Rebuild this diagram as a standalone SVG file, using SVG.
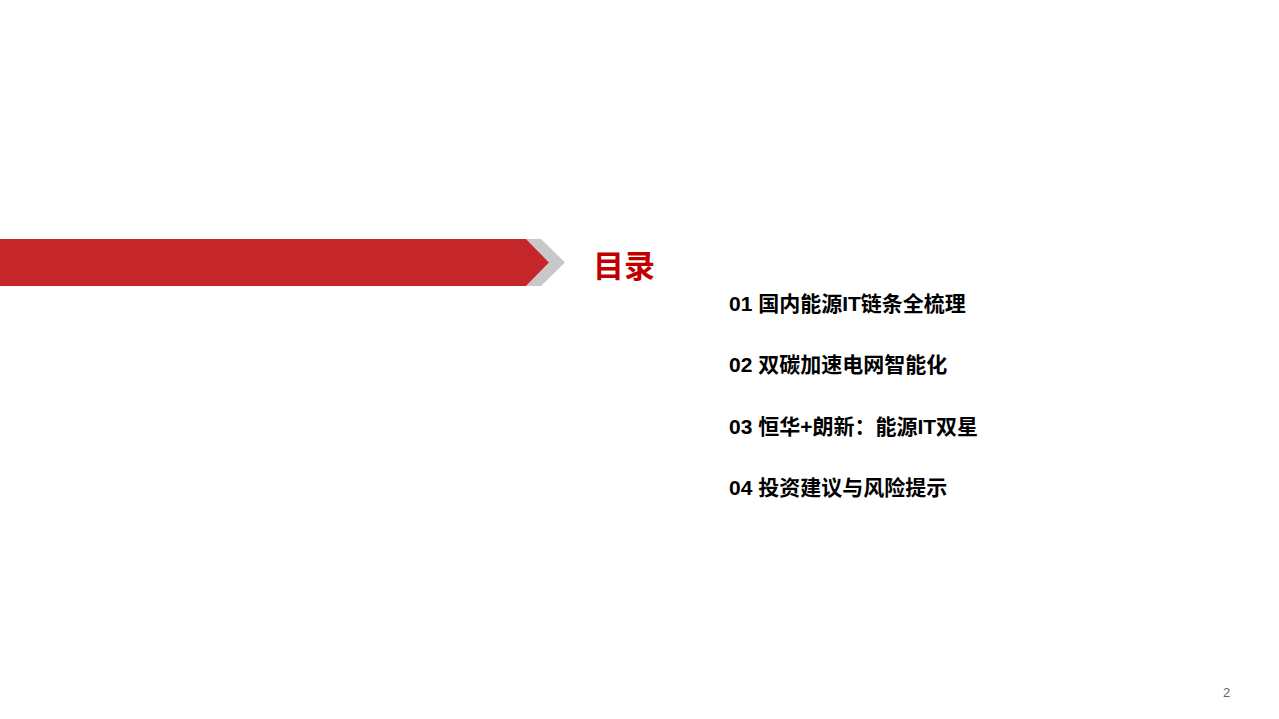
<svg xmlns="http://www.w3.org/2000/svg" width="1279" height="719" viewBox="0 0 1279 719">
<style>
.t{font-family:"Liberation Sans","Noto Sans CJK SC",sans-serif;font-weight:bold;font-size:21px;fill:#000}
</style>
<rect width="1279" height="719" fill="#fff"/>
<g id="banner">
<polygon points="526,239 541,239 565,262.5 541,286 526,286 549,262.5" fill="#c8c8c8"/>
<polygon points="0,239 526,239 549,262.5 526,286 0,286" fill="#c4262a"/>
</g>
<g id="title"><text x="593" y="277" font-family="Liberation Sans,Noto Sans CJK SC,sans-serif" font-weight="bold" font-size="31" fill="#c00000">目录</text></g>
<g id="items">
<text class="t" x="729" y="311">01 国内能源IT链条全梳理</text>
<text class="t" x="729" y="372">02 双碳加速电网智能化</text>
<text class="t" x="729" y="434">03 恒华+朗新：能源IT双星</text>
<text class="t" x="729" y="495">04 投资建议与风险提示</text>
</g>
<text x="1223" y="697" font-family="Liberation Sans,sans-serif" font-size="13" fill="#666">2</text>
</svg>
